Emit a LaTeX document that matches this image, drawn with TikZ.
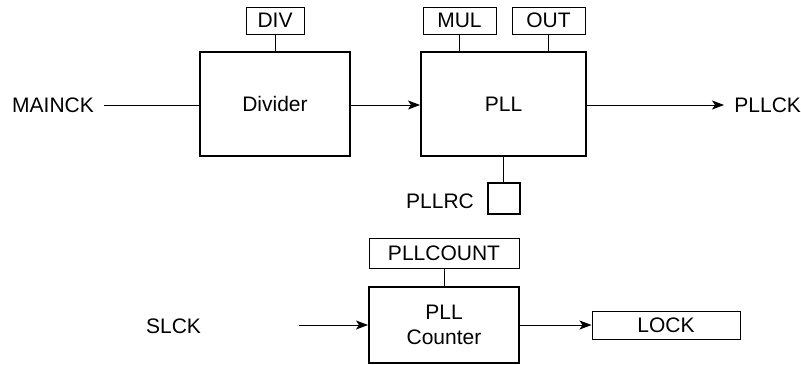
\documentclass[tikz,border=0pt]{standalone}
\usepackage{fontspec}
\setmainfont{Liberation Sans}
\usetikzlibrary{positioning,arrows.meta}
\tikzset{->,>={Stealth[length=6pt,width=4.5pt,inset=1.5pt]},line width=0.6pt,
  every node/.style={font=\fontsize{10.5pt}{12.5pt}\selectfont}}
\newcommand{\drawblock}{\node[draw,line width=1pt,minimum width=75pt,align=center,inner sep=0]}
\newcommand{\drawreg}{\node[draw,line width=0.5pt,minimum height=13.5pt,inner sep=0]}
\newcommand{\drawsig}{\node[inner sep=5pt]}

\begin{document}
\begin{tikzpicture}[x=0.5pt,y=-0.5pt]
	\useasboundingbox (0,0) rectangle (801,364);

	% clock path
	\drawsig (mainck) at (53,105) {MAINCK};
	\drawblock[minimum height=52pt] (div) at (275,104) {Divider};
	\drawblock[minimum width=82.5pt,minimum height=52pt] (pll) at (503.5,104) {PLL};
	\drawsig[anchor=west] (pllck) at (724,105) {PLLCK};

	\drawreg[minimum width=29pt] (divreg) at (275,20.5) {DIV};
	\drawreg[minimum width=36.5pt] (mulreg) at (459.5,20.5) {MUL};
	\drawreg[minimum width=36.5pt] (outreg) at (548.5,20.5) {OUT};

	\node[draw,line width=1pt,minimum width=16pt,minimum height=15.5pt,inner sep=0] (rc) at (503.5,198.5) {};
	\drawsig (rclabel) at (440,201) {PLLRC};

	% lock counter
	\drawsig (slck) at (173.5,326) {SLCK};
	\coordinate (slin) at (299,325);
	\drawreg[minimum width=75pt,minimum height=15pt] (cntreg) at (444,253) {PLLCOUNT};
	\drawblock[minimum height=38pt] (cnt) at (444,325) {PLL\\Counter};
	\drawreg[minimum width=74pt,minimum height=14pt] (lock) at (666,325) {LOCK};

	\draw[-] (mainck) -- (mainck -| div.west);
	\draw (div.east |- mainck) -- (pll.west |- mainck);
	\draw (pll.east |- pllck) -- (pllck);
	\draw[-] (divreg) -- (div);
	\draw[-] (mulreg.south) -- (mulreg.south |- pll.north);
	\draw[-] (outreg.south) -- (outreg.south |- pll.north);
	\draw[-] (pll) -- (rc);

	\draw (slin) -- (cnt);
	\draw (cnt) -- (lock);
	\draw[-] (cntreg) -- (cnt);

\end{tikzpicture}
\end{document}
